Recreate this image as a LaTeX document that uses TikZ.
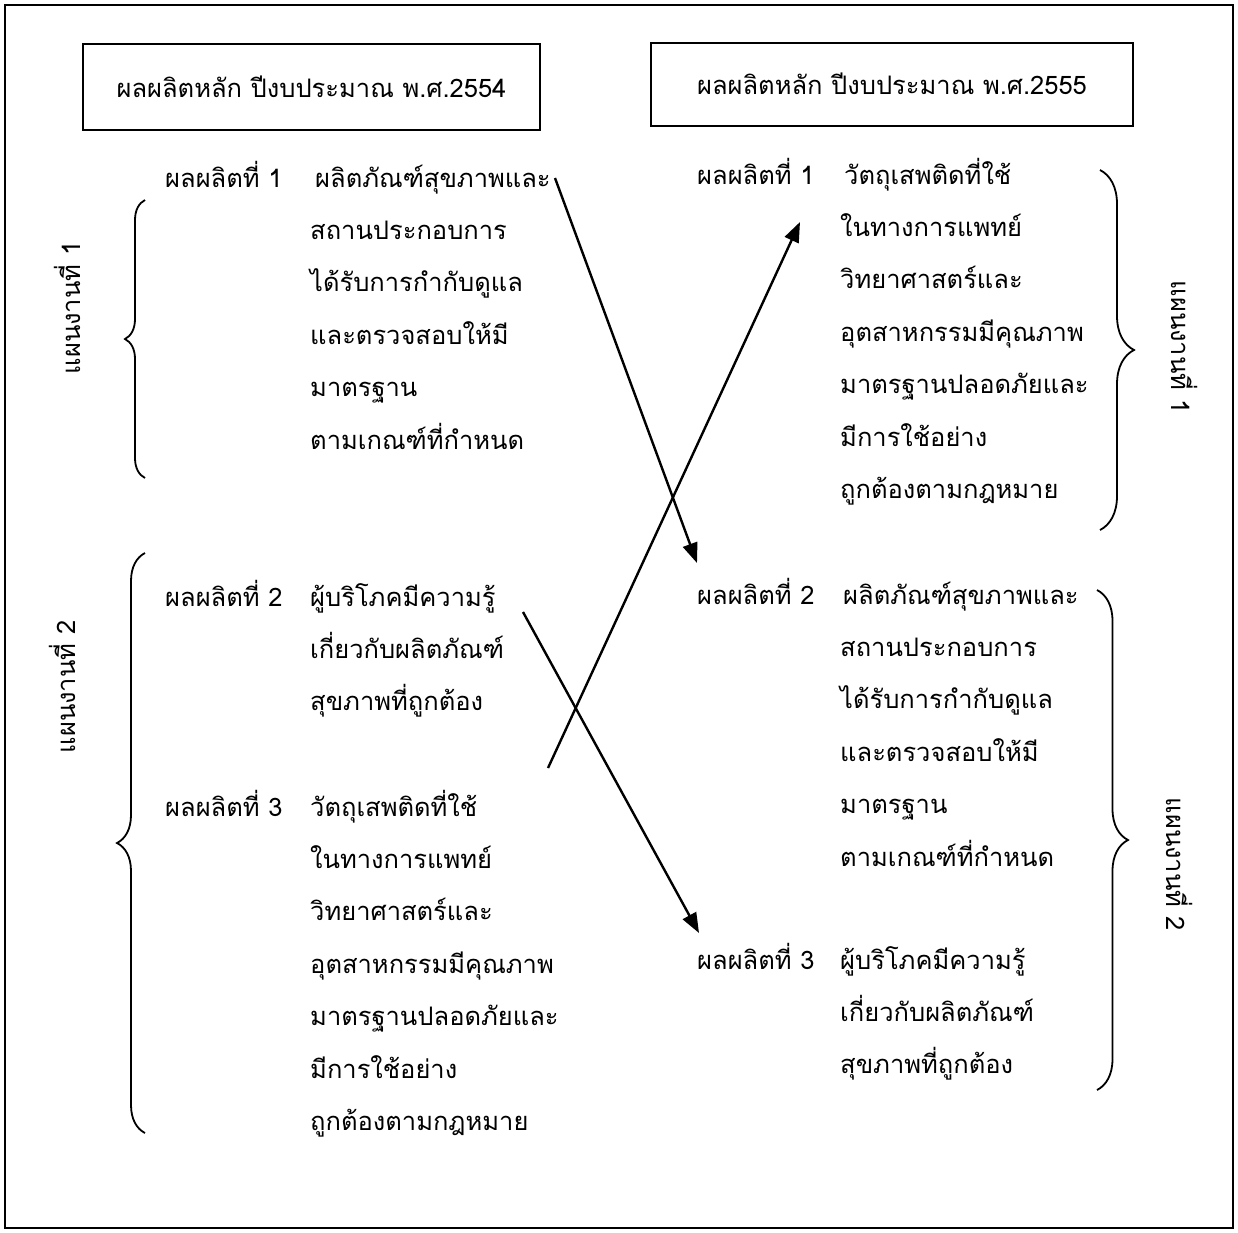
\documentclass[tikz,border=0pt]{standalone}
\usepackage{fontspec}
\newfontfamily\thai[Script=Thai]{Loma}
\usetikzlibrary{positioning,arrows.meta,decorations.pathreplacing}
\newcommand{\itemlines}[1]{\begin{tabular}[t]{@{}l@{}}#1\end{tabular}}

\begin{document}
\begin{tikzpicture}[x=1pt, y=-1pt,
  every node/.style={font=\thai\fontsize{25.5}{52.4}\selectfont},
  entry/.style={anchor=base west, inner sep=0pt},
  title/.style={draw, line width=2pt, inner sep=0pt},
  curly/.style={decorate, decoration={brace, amplitude=#1}, line width=1.8pt},
  link/.style={-{Triangle[length=20pt, width=15pt]}, line width=2.4pt}]
  \useasboundingbox (0,0) rectangle (1238,1232);
  \draw[line width=2pt] (5,5) rectangle (1233,1228);

  % Budget year titles
  \node[title, minimum width=457pt, minimum height=86pt] (year54) at (311.5,87) {ผลผลิตหลัก ปีงบประมาณ พ.ศ.2554};
  \node[title, minimum width=482pt, minimum height=83pt] (year55) at (892,84) {ผลผลิตหลัก ปีงบประมาณ พ.ศ.2555};

  % Outputs 2554
  \node[entry] (out1L) at (165,187) {ผลผลิตที่ 1};
  \node[entry] (txt1L) at (310,187) {\itemlines{\hspace*{5pt}ผลิตภัณฑ์สุขภาพและ\\สถานประกอบการ\\ได้รับการกำกับดูแล\\และตรวจสอบให้มี\\มาตรฐาน\\ตามเกณฑ์ที่กำหนด}};
  \node[entry] (out2L) at (165,606) {ผลผลิตที่ 2};
  \node[entry] (txt2L) at (310,606) {\itemlines{ผู้บริโภคมีความรู้\\เกี่ยวกับผลิตภัณฑ์\\สุขภาพที่ถูกต้อง}};
  \node[entry] (out3L) at (165,816) {ผลผลิตที่ 3};
  \node[entry] (txt3L) at (310,816) {\itemlines{วัตถุเสพติดที่ใช้\\ในทางการแพทย์\\วิทยาศาสตร์และ\\อุตสาหกรรมมีคุณภาพ\\มาตรฐานปลอดภัยและ\\มีการใช้อย่าง\\ถูกต้องตามกฎหมาย}};

  % Plans 2554
  \draw[curly=20pt] (145,478) -- (145,200);
  \node[rotate=90] (plan1L) at (67,308) {แผนงานที่ 1};
  \draw[curly=28pt] (145,1133) -- (145,553);
  \node[rotate=90] (plan2L) at (62,687) {แผนงานที่ 2};

  % Outputs 2555
  \node[entry] (out1R) at (697,184) {ผลผลิตที่ 1};
  \node[entry] (txt1R) at (840,184) {\itemlines{\hspace*{4pt}วัตถุเสพติดที่ใช้\\ในทางการแพทย์\\วิทยาศาสตร์และ\\อุตสาหกรรมมีคุณภาพ\\มาตรฐานปลอดภัยและ\\มีการใช้อย่าง\\ถูกต้องตามกฎหมาย}};
  \node[entry] (out2R) at (697,604) {ผลผลิตที่ 2};
  \node[entry] (txt2R) at (840,604) {\itemlines{\hspace*{3pt}ผลิตภัณฑ์สุขภาพและ\\สถานประกอบการ\\ได้รับการกำกับดูแล\\และตรวจสอบให้มี\\มาตรฐาน\\ตามเกณฑ์ที่กำหนด}};
  \node[entry] (out3R) at (697,969) {ผลผลิตที่ 3};
  \node[entry] (txt3R) at (840,969) {\itemlines{ผู้บริโภคมีความรู้\\เกี่ยวกับผลิตภัณฑ์\\สุขภาพที่ถูกต้อง}};

  % Plans 2555
  \draw[curly=34pt] (1100,170) -- (1100,530);
  \node[rotate=-90] (plan1R) at (1185,347) {แผนงานที่ 1};
  \draw[curly=31pt] (1097,590) -- (1097,1090);
  \node[rotate=-90] (plan2R) at (1180,864) {แผนงานที่ 2};

  % Moves between years
  \coordinate (from1) at (555,178);
  \coordinate (to1) at (697,563);
  \coordinate (from2) at (523,612);
  \coordinate (to2) at (699,933);
  \coordinate (from3) at (548,768);
  \coordinate (to3) at (800,222);
  \draw[link] (from1) -- (to1);
  \draw[link] (from2) -- (to2);
  \draw[link] (from3) -- (to3);
\end{tikzpicture}
\end{document}
